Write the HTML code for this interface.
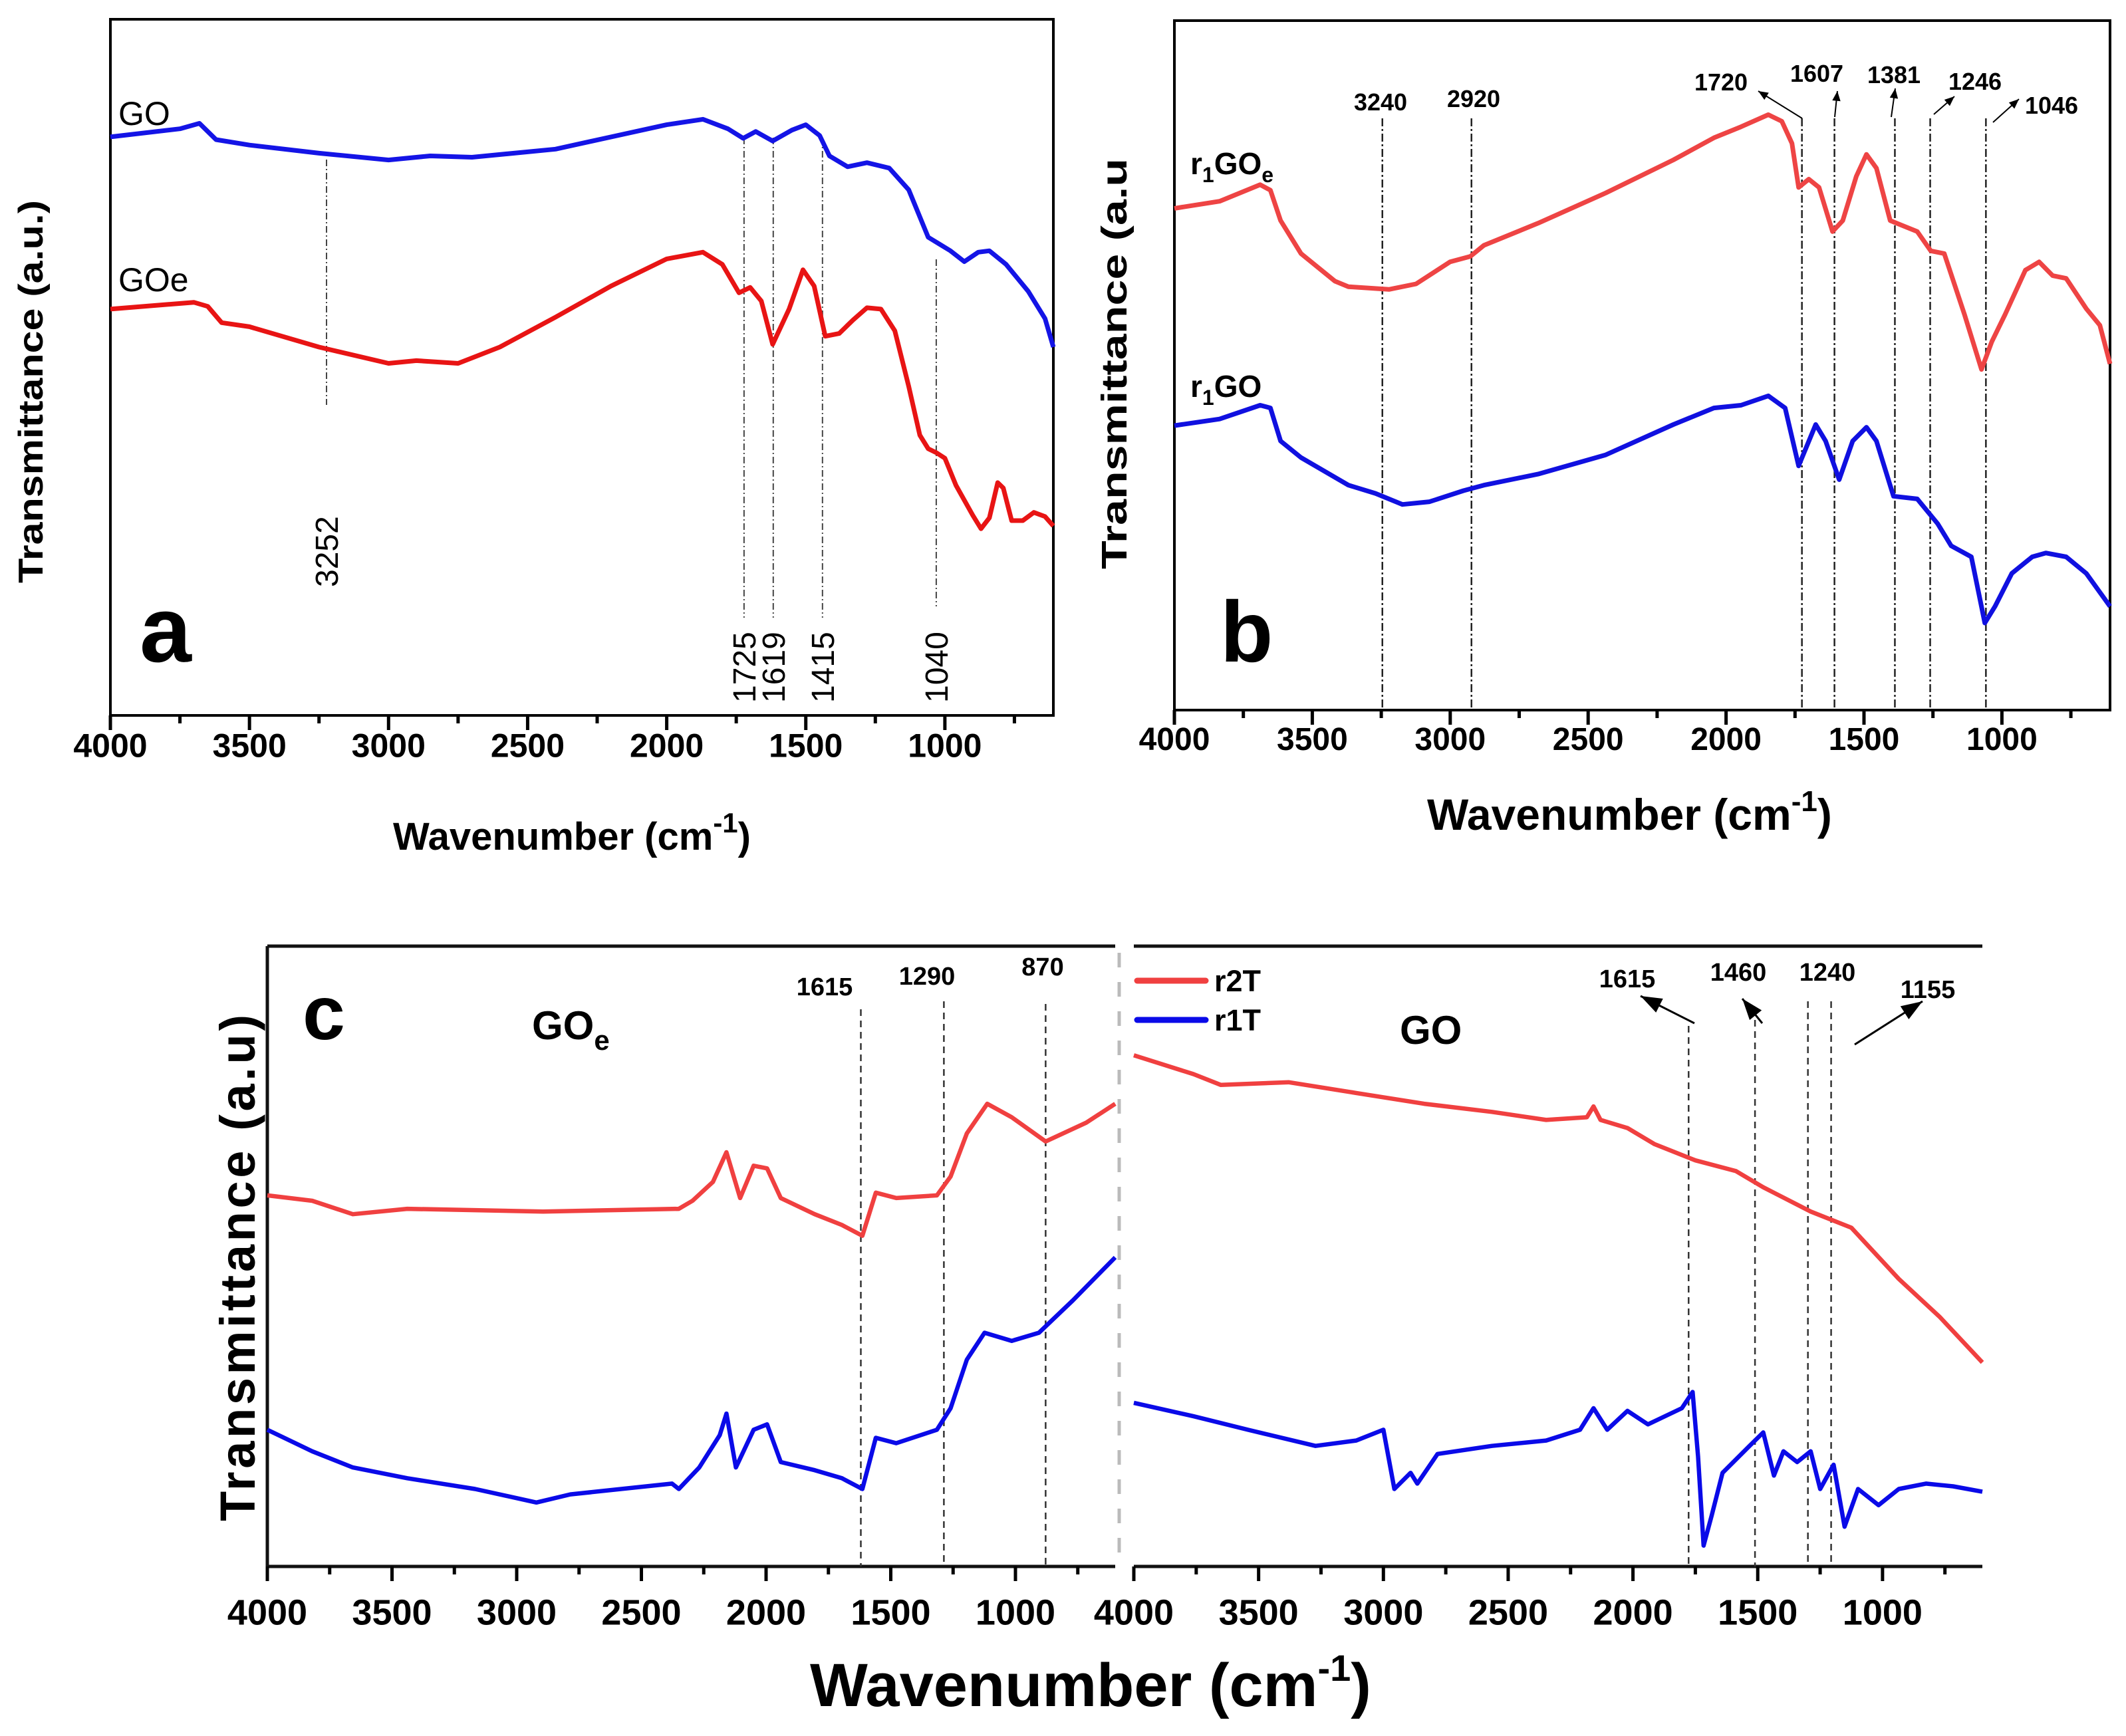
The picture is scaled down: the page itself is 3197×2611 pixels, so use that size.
<!DOCTYPE html>
<html><head><meta charset="utf-8">
<style>
html,body{margin:0;padding:0;background:#fff;}
svg{display:block;font-family:"Liberation Sans",Arial,sans-serif;}
</style></head>
<body>
<svg id="fig" width="3197" height="2611" viewBox="0 0 3197 2611" xmlns="http://www.w3.org/2000/svg"></svg>
<script>
// ---------- Panel a data ----------
const aGoWave = [4000,3750,3680,3620,3500,3250,3000,2850,2700,2400,2200,2000,1870,1780,1725,1680,1619,1550,1500,1450,1415,1350,1280,1200,1130,1060,1020,980,930,880,840,780,700,640,610];
const aGoVal  = [420,426,430,418,414,408,403,406,405,411,420,429,433,426,419,424,417,425,429,421,406,398,401,397,381,346,341,336,328,335,336,326,306,286,265];
const aGoeWave = [4000,3700,3650,3600,3500,3250,3000,2900,2750,2600,2400,2200,2000,1870,1800,1740,1700,1660,1619,1560,1510,1470,1430,1380,1330,1280,1230,1180,1130,1090,1060,1030,1000,960,900,870,840,810,790,760,720,680,640,610];
const aGoeVal  = [293,298,295,283,280,265,253,255,253,265,287,310,330,335,326,305,309,299,267,293,322,310,273,275,285,294,293,277,236,200,190,187,183,163,141,131,139,165,161,137,137,143,140,133];
const aPeakWave = [3223,1722,1617,1440,1031];
const aPeakLabels = ["3252","1725","1619","1415","1040"];
const aTicks = [4000,3500,3000,2500,2000,1500,1000];
const aTickLabels = ["4000","3500","3000","2500","2000","1500","1000"];

// ---------- Panel b data ----------
const bRedWave = [4000,3836,3689,3652,3615,3541,3418,3369,3222,3124,3001,2927,2878,2682,2436,2191,2044,1946,1847,1798,1761,1737,1700,1663,1614,1577,1528,1491,1455,1405,1356,1307,1258,1209,1136,1074,1037,988,915,865,816,767,694,645,608];
const bRedVal  = [910,923,953,943,888,828,778,768,763,773,813,823,843,883,938,998,1038,1058,1080,1068,1028,948,963,948,868,888,968,1008,983,888,878,868,833,828,718,618,668,718,798,813,788,783,728,698,628];
const bBlueWave = [4000,3836,3689,3652,3615,3541,3369,3271,3173,3075,2952,2878,2682,2436,2191,2044,1946,1847,1786,1737,1675,1639,1590,1541,1491,1455,1393,1307,1233,1184,1111,1062,1025,964,890,841,767,694,608];
const bBlueVal  = [516,528,553,548,488,458,408,393,373,378,398,408,428,463,518,548,553,570,548,443,518,488,418,488,513,488,388,383,338,298,278,158,188,248,278,285,278,248,188];
const bPeakWave = [3246,2923,1725,1607,1388,1260,1058];
const bPeakLabels = ["3240","2920","1720","1607","1381","1246","1046"];
const bTicks = [4000,3500,3000,2500,2000,1500,1000];
const bTickLabels = ["4000","3500","3000","2500","2000","1500","1000"];

// ---------- Panel c data ----------
const cLRedWave = [4000,3820,3657,3439,2894,2350,2295,2213,2159,2104,2050,1996,1941,1805,1696,1614,1560,1478,1315,1260,1195,1113,1015,879,716,600];
const cLRedVal  = [685,675,650,660,655,660,675,710,765,680,740,735,680,650,630,610,690,680,685,720,800,855,830,785,820,855];
const cLBlueWave = [4000,3820,3657,3439,3167,2921,2785,2377,2350,2268,2186,2159,2121,2050,1996,1941,1805,1696,1614,1560,1478,1315,1260,1195,1124,1015,906,770,600];
const cLBlueVal  = [250,210,180,160,140,115,130,150,140,180,240,280,180,250,260,190,175,160,140,235,225,250,290,380,430,415,430,490,570];
const cRRedWave = [4000,3761,3652,3380,3109,2837,2565,2348,2185,2158,2130,2022,1913,1750,1587,1478,1288,1125,935,772,600];
const cRRedVal  = [945,910,890,895,875,855,840,825,830,850,825,810,780,750,730,700,655,625,530,460,375];
const cRBlueWave = [4000,3761,3543,3272,3109,3000,2956,2891,2864,2783,2565,2348,2212,2158,2103,2022,1940,1804,1761,1739,1717,1685,1641,1533,1478,1435,1397,1342,1288,1250,1196,1152,1098,1016,935,826,717,600];
const cRBlueVal  = [300,275,250,220,230,250,140,170,150,205,220,230,250,290,250,285,260,290,320,200,35,90,170,220,245,165,210,190,210,140,185,70,140,110,140,150,145,135];
const cLPeakWave = [1620,1287,879];
const cLPeakLabels = ["1615","1290","870"];
const cRPeakWave = [1777,1511,1299,1206];
const cRPeakLabels = ["1615","1460","1240","1155"];
const cTicks = [4000,3500,3000,2500,2000,1500,1000];
const cTickLabels = ["4000","3500","3000","2500","2000","1500","1000"];

const NS = "http://www.w3.org/2000/svg";
const svg = document.getElementById("fig");
function mk(tag, attrs, parent){
  const e = document.createElementNS(NS, tag);
  for (const k in attrs) e.setAttribute(k, attrs[k]);
  (parent||svg).appendChild(e);
  return e;
}
function txt(str, attrs){ const e = mk("text", attrs); e.textContent = str; return e; }
function linScale(d0,d1,r0,r1){ return v => r0 + (v-d0)*(r1-r0)/(d1-d0); }

function pathFrom(xs, ys, sx, sy){
  let d = "";
  for (let i=0;i<xs.length;i++) d += (i?"L":"M") + sx(xs[i]).toFixed(1) + "," + sy(ys[i]).toFixed(1);
  return d;
}
function axisTicks(sx, ticks, labels, y0, fs, prefix, x0, x1, extra){
  for (let w=4000; w>=x1; w-=250){
    const major = (w%500===0);
    const t = mk("line",{x1:sx(w),x2:sx(w),y1:y0,y2:y0+(major?22:12),stroke:"#000","stroke-width":5});
    
    
  }
  for (let i=0;i<ticks.length;i++){
    const l = txt(labels[i],{x:sx(ticks[i]),y:y0+ fs*1.25 + (extra||0),"text-anchor":"middle","font-size":fs,"font-weight":"bold"});
    
    
  }
}

// ================= Panel a =================
(function(){
  const L=166,R=1584,T=29,B=1076;
  const sx = linScale(4000,610,L,R);
  const sy = v => (521 - v)*2.039;
  const box = mk("rect",{x:L,y:T,width:R-L,height:B-T,fill:"none",stroke:"#000","stroke-width":4});
  
  
  axisTicks(sx,aTicks,aTickLabels,B,50,'panel-a-x',L,610,0);
  const tops=[240,207,207,207,390], bots=[609,929,929,929,912], labBase=[883,1057,1057,1057,1057];
  for (let i=0;i<aPeakWave.length;i++){
    const x=sx(aPeakWave[i]);
    const ln = mk("line",{x1:x,x2:x,y1:tops[i],y2:bots[i],stroke:"#444","stroke-width":2,"stroke-dasharray":"10,4,2,4"});
    
    
    const t = txt(aPeakLabels[i],{x:0,y:0,"font-size":48,transform:`translate(${x+17},${labBase[i]}) rotate(-90)`});
    
    
  }
  const pb = mk("path",{d:pathFrom(aGoWave,aGoVal,sx,sy),fill:"none",stroke:"#1414e6","stroke-width":7,"stroke-linejoin":"round"});
  
  
  const pr = mk("path",{d:pathFrom(aGoeWave,aGoeVal,sx,sy),fill:"none",stroke:"#e81414","stroke-width":7,"stroke-linejoin":"round"});
  
  
  const l1 = txt("GO",{x:178,y:188,"font-size":50});  
  const l2 = txt("GOe",{x:178,y:438,"font-size":50});  
  const pl = txt("a",{x:210,y:995,"font-size":140,"font-weight":"bold"});  
  const xt = txt("Wavenumber (cm",{x:591,y:1278,"font-size":58,"font-weight":"bold"});
   
  const sup = mk("tspan",{dy:-26,"font-size":42},xt); sup.textContent="-1";
  const cl = mk("tspan",{dy:26},xt); cl.textContent=")";
  const yt = txt("Transmittance (a.u.)",{x:0,y:0,"font-size":52,"font-weight":"bold","text-anchor":"middle",transform:"translate(64,589) rotate(-90)",textLength:576,lengthAdjust:"spacingAndGlyphs"});
   
})();

// ================= Panel b =================
(function(){
  const L=1766,R=3173,T=31,B=1068;
  const sx = linScale(4000,608,L,R);
  const sy = v => (1288 - v)/1.206;
  const box = mk("rect",{x:L,y:T,width:R-L,height:B-T,fill:"none",stroke:"#000","stroke-width":4});
   
  axisTicks(sx,bTicks,bTickLabels,B,48,'panel-b-x',L,608,0);
  const labPos=[[2076,166],[2216,161],[2588,136],[2732,123],[2848,125],[2970,135],[3085,171]];
  for (let i=0;i<bPeakWave.length;i++){
    const x=sx(bPeakWave[i]);
    const ln = mk("line",{x1:x,x2:x,y1:178,y2:B,stroke:"#222","stroke-width":2.5,"stroke-dasharray":"12,4,3,4"});
     
    const t = txt(bPeakLabels[i],{x:labPos[i][0],y:labPos[i][1],"font-size":36,"font-weight":"bold","text-anchor":"middle"});
     
  }
  const arrows=[[2710,178,2644,137],[2759,176,2763,137],[2844,176,2850,133],[2908,172,2939,145],[2997,184,3036,149]];
  for (const a of arrows){
    const g = mk("line",{x1:a[0],y1:a[1],x2:a[2],y2:a[3],stroke:"#000","stroke-width":2});
     
    const ang=Math.atan2(a[3]-a[1],a[2]-a[0]), s=16;
    const p = mk("polygon",{points:`${a[2]},${a[3]} ${a[2]-s*Math.cos(ang-0.4)},${a[3]-s*Math.sin(ang-0.4)} ${a[2]-s*Math.cos(ang+0.4)},${a[3]-s*Math.sin(ang+0.4)}`,fill:"#000"});
     
  }
  const pr = mk("path",{d:pathFrom(bRedWave,bRedVal,sx,sy),fill:"none",stroke:"#ee4444","stroke-width":7,"stroke-linejoin":"round"});
   
  const pb = mk("path",{d:pathFrom(bBlueWave,bBlueVal,sx,sy),fill:"none",stroke:"#1010e0","stroke-width":7,"stroke-linejoin":"round"});
   
  const l1 = txt("r",{x:1790,y:262,"font-size":46,"font-weight":"bold"});  
  let s=mk("tspan",{dy:12,"font-size":32},l1); s.textContent="1";
  s=mk("tspan",{dy:-12},l1); s.textContent="GO";
  s=mk("tspan",{dy:12,"font-size":32},l1); s.textContent="e";
  const l2 = txt("r",{x:1790,y:597,"font-size":46,"font-weight":"bold"});  
  s=mk("tspan",{dy:12,"font-size":32},l2); s.textContent="1";
  s=mk("tspan",{dy:-12},l2); s.textContent="GO";
  const pl = txt("b",{x:1835,y:995,"font-size":130,"font-weight":"bold"});  
  const xt = txt("Wavenumber  (cm",{x:2146,y:1248,"font-size":66,"font-weight":"bold"});
   
  s = mk("tspan",{dy:-28,"font-size":44},xt); s.textContent="-1";
  s = mk("tspan",{dy:28},xt); s.textContent=")";
  const yt = txt("Transmittance (a.u",{x:0,y:0,"font-size":54,"font-weight":"bold","text-anchor":"middle",transform:"translate(1694,547) rotate(-90)",textLength:618,lengthAdjust:"spacingAndGlyphs"});
   
})();

// ================= Panel c =================
(function(){
  const T=1423,B=2356;
  const LL=402,LR=1677,RL=1705,RR=2981;
  const sxL = linScale(4000,600,LL,LR);
  const sxR = linScale(4000,600,RL,RR);
  const sy = v => 1340 + (1250 - v)/1.234;
  const f1 = mk("path",{d:`M${LL},${T}H${LR}M${LL},${T}V${B}H${LR}`,fill:"none",stroke:"#111","stroke-width":5});
   
  const f2 = mk("path",{d:`M${RL},${T}H${RR}M${RL},${B}H${RR}`,fill:"none",stroke:"#111","stroke-width":5});
   
  const sep = mk("line",{x1:1683,x2:1683,y1:T+10,y2:B,stroke:"#bbb","stroke-width":5,"stroke-dasharray":"22,22"});
   
  axisTicks(sxL,cTicks,cTickLabels,B,54,'panel-c-left-x',LL,600,20);
  axisTicks(sxR,cTicks,cTickLabels,B,54,'panel-c-right-x',RL,600,20);
  const lTops=[1518,1506,1510], rTops=[1543,1534,1506,1506];
  for (let i=0;i<cLPeakWave.length;i++){
    const x=sxL(cLPeakWave[i]);
    const ln=mk("line",{x1:x,x2:x,y1:lTops[i],y2:B,stroke:"#333","stroke-width":2.5,"stroke-dasharray":"10,7"});
     
  }
  for (let i=0;i<cRPeakWave.length;i++){
    const x=sxR(cRPeakWave[i]);
    const ln=mk("line",{x1:x,x2:x,y1:rTops[i],y2:B,stroke:"#333","stroke-width":2.5,"stroke-dasharray":"10,7"});
     
  }
  const lLab=[[1240,1497],[1394,1481],[1568,1467]], rLab=[[2447,1485],[2614,1475],[2748,1475],[2899,1501]];
  for (let i=0;i<cLPeakLabels.length;i++){
    const t=txt(cLPeakLabels[i],{x:lLab[i][0],y:lLab[i][1],"font-size":38,"font-weight":"bold","text-anchor":"middle"});
     
  }
  for (let i=0;i<cRPeakLabels.length;i++){
    const t=txt(cRPeakLabels[i],{x:rLab[i][0],y:rLab[i][1],"font-size":38,"font-weight":"bold","text-anchor":"middle"});
     
  }
  const arrows=[[2548,1539,2467,1498],[2650,1539,2620,1502],[2789,1571,2891,1506]];
  for (const a of arrows){
    const g = mk("line",{x1:a[0],y1:a[1],x2:a[2],y2:a[3],stroke:"#000","stroke-width":3});
     
    const ang=Math.atan2(a[3]-a[1],a[2]-a[0]), s=34;
    const p = mk("polygon",{points:`${a[2]},${a[3]} ${a[2]-s*Math.cos(ang-0.35)},${a[3]-s*Math.sin(ang-0.35)} ${a[2]-s*Math.cos(ang+0.35)},${a[3]-s*Math.sin(ang+0.35)}`,fill:"#000"});
     
  }
  const red="#f04040", blue="#0a0ae8";
  let p;
  p = mk("path",{d:pathFrom(cLRedWave,cLRedVal,sxL,sy),fill:"none",stroke:red,"stroke-width":6.5,"stroke-linejoin":"round"});
   
  p = mk("path",{d:pathFrom(cLBlueWave,cLBlueVal,sxL,sy),fill:"none",stroke:blue,"stroke-width":6.5,"stroke-linejoin":"round"});
   
  p = mk("path",{d:pathFrom(cRRedWave,cRRedVal,sxR,sy),fill:"none",stroke:red,"stroke-width":6.5,"stroke-linejoin":"round"});
   
  p = mk("path",{d:pathFrom(cRBlueWave,cRBlueVal,sxR,sy),fill:"none",stroke:blue,"stroke-width":6.5,"stroke-linejoin":"round"});
   
  const lg1 = mk("line",{x1:1710,x2:1813,y1:1475,y2:1475,stroke:red,"stroke-width":9,"stroke-linecap":"round"});
   
  const lt1 = txt("r2T",{x:1826,y:1491,"font-size":45,"font-weight":"bold"});
   
  const lg2 = mk("line",{x1:1710,x2:1813,y1:1534,y2:1534,stroke:blue,"stroke-width":9,"stroke-linecap":"round"});
   
  const lt2 = txt("r1T",{x:1826,y:1550,"font-size":45,"font-weight":"bold"});
   
  const pl = txt("c",{x:455,y:1563,"font-size":115,"font-weight":"bold"});  
  const g1 = txt("GO",{x:800,y:1563,"font-size":60,"font-weight":"bold"});  
  let s = mk("tspan",{dy:16,"font-size":42},g1); s.textContent="e";
  const g2 = txt("GO",{x:2105,y:1570,"font-size":60,"font-weight":"bold"});  
  const xt = txt("Wavenumber (cm",{x:1218,y:2566,"font-size":92,"font-weight":"bold"});
   
  s = mk("tspan",{dy:-38,"font-size":56},xt); s.textContent="-1";
  s = mk("tspan",{dy:38},xt); s.textContent=")";
  const yt = txt("Transmittance (a.u)",{x:0,y:0,"font-size":74,"font-weight":"bold","text-anchor":"middle",transform:"translate(383,1907) rotate(-90)",textLength:762,lengthAdjust:"spacing"});
   
})();
</script>
</body></html>
